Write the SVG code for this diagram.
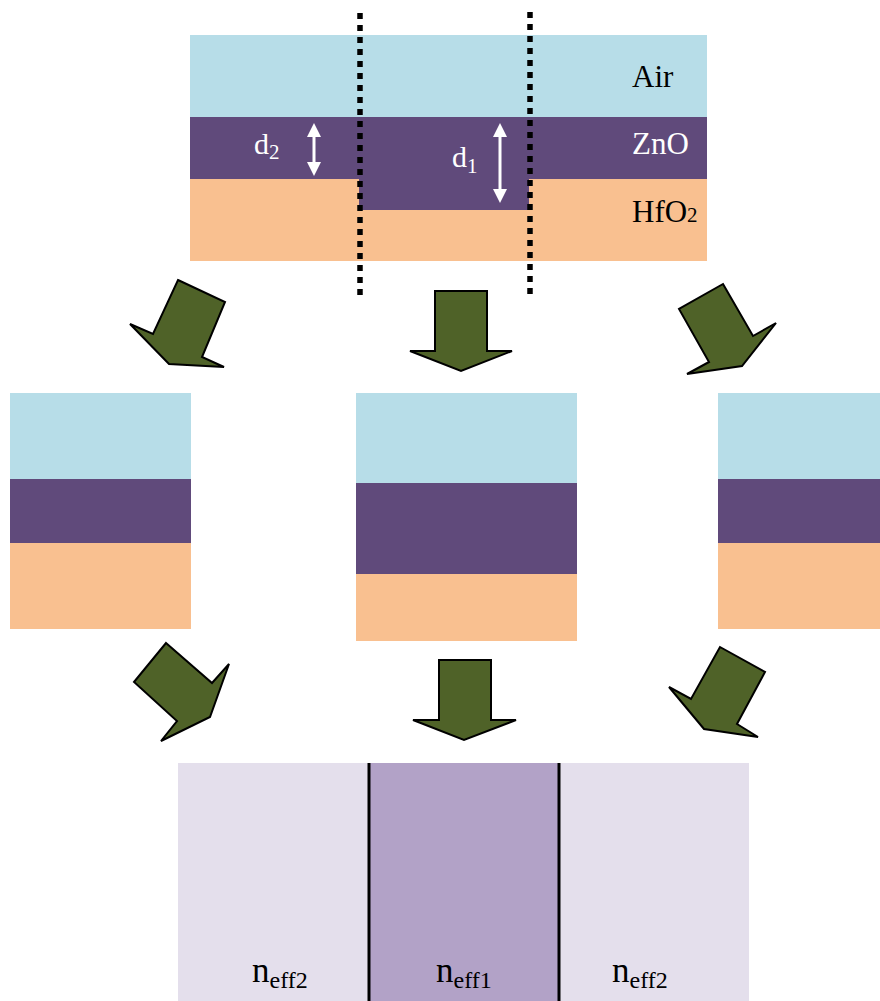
<svg xmlns="http://www.w3.org/2000/svg" width="880" height="1001" viewBox="0 0 880 1001">
  <defs>
    <style>
      .air { fill: #b7dde8; }
      .zno { fill: #604a7b; }
      .hfo { fill: #f9c090; }
      .flow { fill: #4f6228; stroke: #000; stroke-width: 2; stroke-linejoin: miter; }
      .cut { stroke: #000; stroke-width: 5.5; stroke-dasharray: 6 6; fill: none; }
      .lbl { font-family: "Liberation Serif", "DejaVu Serif", serif; }
      .dim { stroke: #fff; stroke-width: 3; fill: none; }
    </style>
    <marker id="whiteHead" viewBox="0 0 14 14" refX="2" refY="7" markerWidth="14" markerHeight="14" markerUnits="userSpaceOnUse" orient="auto-start-reverse">
      <path d="M0,0 L14,7 L0,14 z" fill="#fff"/>
    </marker>
  </defs>
  <rect width="880" height="1001" fill="#fff"/>

  <!-- waveguide cross-section -->
  <g id="structure">
    <rect class="air" x="190" y="35" width="517" height="82"/>
    <rect class="zno" x="190" y="117" width="517" height="62"/>
    <rect class="hfo" x="190" y="179" width="517" height="82"/>
    <rect class="zno" x="359" y="178" width="170" height="32"/>
    <text class="lbl" x="632" y="87" font-size="31" fill="#000">Air</text>
    <text class="lbl" x="632" y="154" font-size="31" fill="#fff">ZnO</text>
    <text class="lbl" x="632" y="222" font-size="31" fill="#000">HfO<tspan font-size="21">2</tspan></text>
    <line class="dim" x1="314" y1="135" x2="314" y2="164" marker-start="url(#whiteHead)" marker-end="url(#whiteHead)"/>
    <line class="dim" x1="500" y1="135" x2="500" y2="191" marker-start="url(#whiteHead)" marker-end="url(#whiteHead)"/>
    <text class="lbl" x="254" y="154" font-size="30" fill="#fff">d<tspan font-size="21" dy="5">2</tspan></text>
    <text class="lbl" x="452" y="167" font-size="30" fill="#fff">d<tspan font-size="21" dy="6">1</tspan></text>
  </g>

  <!-- section cut lines -->
  <g id="cuts">
    <line class="cut" x1="360" y1="13" x2="360" y2="296"/>
    <line class="cut" x1="530" y1="12" x2="530" y2="295"/>
  </g>

  <!-- outer slab stack (left) -->
  <g id="slab-left">
    <rect class="air" x="10" y="393" width="181" height="86"/>
    <rect class="zno" x="10" y="479" width="181" height="64"/>
    <rect class="hfo" x="10" y="543" width="181" height="86"/>
  </g>

  <!-- inner slab stack (centre) -->
  <g id="slab-centre">
    <rect class="air" x="356" y="393" width="221" height="90"/>
    <rect class="zno" x="356" y="483" width="221" height="91"/>
    <rect class="hfo" x="356" y="574" width="221" height="67"/>
  </g>

  <!-- outer slab stack (right) -->
  <g id="slab-right">
    <rect class="air" x="718" y="393" width="162" height="86"/>
    <rect class="zno" x="718" y="479" width="162" height="64"/>
    <rect class="hfo" x="718" y="543" width="162" height="86"/>
  </g>

  <!-- effective index map -->
  <g id="index-map">
    <rect x="178" y="763" width="571" height="238" fill="#e4dfec"/>
    <rect x="369" y="763" width="190" height="238" fill="#b2a2c7"/>
    <line x1="369" y1="763" x2="369" y2="1001" stroke="#000" stroke-width="3"/>
    <line x1="559" y1="763" x2="559" y2="1001" stroke="#000" stroke-width="3"/>
    <text class="lbl" x="252" y="982" font-size="35" fill="#000">n<tspan font-size="24" dy="6">eff2</tspan></text>
    <text class="lbl" x="436" y="982" font-size="35" fill="#000">n<tspan font-size="24" dy="6">eff1</tspan></text>
    <text class="lbl" x="612" y="982" font-size="35" fill="#000">n<tspan font-size="24" dy="6">eff2</tspan></text>
  </g>

  <!-- block arrows -->
  <g id="connectors">
    <polygon class="flow" points="178,280 225,302 202,357 224,367 169,364 130,324 153,334"/>
    <polygon class="flow" points="435,291 487,291 487,351 512,351 461,371 410,351 435,351"/>
    <polygon class="flow" points="723,284 753,336 776,323 742,366 687,374 709,362 679,309"/>
    <polygon class="flow" points="166,643 212,683 229,664 210,717 161,741 177,721 134,682"/>
    <polygon class="flow" points="439,660 491,660 491,720 516,720 464,740 413,720 439,720"/>
    <polygon class="flow" points="720,647 765,672 737,724 758,737 704,729 669,687 691,699"/>
  </g>
</svg>
